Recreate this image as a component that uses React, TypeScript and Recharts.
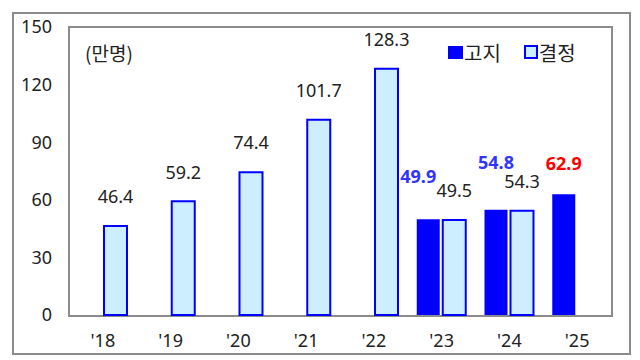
import React from 'react';
import { BarChart, Bar, XAxis, YAxis, LabelList } from 'recharts';

const years = ["'18", "'19", "'20", "'21", "'22", "'23", "'24", "'25"];
const notified = [null, null, null, null, null, 49.9, 54.8, 62.9]; // 고지
const decided = [46.4, 59.2, 74.4, 101.7, 128.3, 49.5, 54.3, null]; // 결정
const yTicks = [0, 30, 60, 90, 120, 150];

const data = years.map((y, i) => ({ year: y, notified: notified[i], decided: decided[i] }));

const FONT = "'Noto Sans', 'Noto Sans CJK KR', sans-serif";
const KFONT = "'Noto Sans CJK KR', sans-serif";
const BLUE = '#0000ff';
const LIGHT = '#cceeff';

// hand placement of the 고지 labels, as in the original
const notifiedLabelStyle: Record<number, { dx: number; rise: number; color: string }> = {
  5: { dx: -10, rise: 42, color: '#3333ff' },
  6: { dx: 0, rise: 47, color: '#3333ff' },
  7: { dx: 0, rise: 31, color: '#ff0000' },
};

const NotifiedLabel = (props: any) => {
  const { x, y, width, value } = props;
  if (value == null) return null;
  const idx = notified.indexOf(Number(value));
  const s = notifiedLabelStyle[idx] || { dx: 0, rise: 30, color: BLUE };
  return (
    <text x={Number(x) + Number(width) / 2 + s.dx} y={Number(y) - s.rise} dy="0.35em" textAnchor="middle"
      fontFamily={FONT} fontSize={18} fontWeight="bold" fill={s.color}>
      {value}
    </text>
  );
};

const DecidedLabel = (props: any) => {
  const { x, y, width, value } = props;
  if (value == null) return null;
  return (
    <text x={Number(x) + Number(width) / 2} y={Number(y) - 29} dy="0.35em" textAnchor="middle"
      fontFamily={FONT} fontSize={18} fill="#222">
      {value}
    </text>
  );
};

export default function App() {
  return (
    <div style={{ position: 'relative', width: 640, height: 360, marginLeft: -8, marginTop: -8, background: '#fff' }}>
      <div style={{ position: 'absolute', left: 12, top: 12, width: 615, height: 339, border: '2px solid #8c8c8c' }} />
      <div style={{ position: 'absolute', left: 68, top: 26, width: 541, height: 287, border: '2px solid #8c8c8c' }} />
      <div style={{ position: 'absolute', left: 85, top: 38, lineHeight: '30px', fontFamily: KFONT, fontSize: 19, color: '#222' }}>(만명)</div>
      <div style={{ position: 'absolute', left: 448, top: 37, height: 30, display: 'flex', alignItems: 'center', fontFamily: KFONT, fontSize: 20, color: '#222', fontWeight: 400 }}>
        <span style={{ display: 'inline-block', width: 15, height: 13, background: BLUE, marginRight: 1 }} />
        <span>고지</span>
        <span style={{ display: 'inline-block', width: 10, height: 10, background: LIGHT, border: `2px solid ${BLUE}`, marginLeft: 23, marginRight: 1 }} />
        <span>결정</span>
      </div>
      <div style={{ position: 'absolute', left: 0, top: 0 }}>
        <BarChart width={640} height={360} data={data}
          margin={{ top: 27, right: 29, bottom: 0, left: 0 }}
          barCategoryGap={9} barGap={3}>
          <XAxis dataKey="year" height={45} axisLine={false} tickLine={false} tickSize={0} tickMargin={19}
            tick={{ fill: '#222', fontSize: 18, fontFamily: FONT }} interval={0} />
          <YAxis width={69} domain={[0, 150]} ticks={yTicks} axisLine={false} tickLine={false}
            tickSize={0} tickMargin={17} interval={0}
            tick={{ fill: '#222', fontSize: 18, fontFamily: FONT }} />
          <Bar dataKey="notified" fill={BLUE} isAnimationActive={false}>
            <LabelList dataKey="notified" content={NotifiedLabel} />
          </Bar>
          <Bar dataKey="decided" fill={LIGHT} stroke={BLUE} strokeWidth={2} isAnimationActive={false}>
            <LabelList dataKey="decided" content={DecidedLabel} />
          </Bar>
        </BarChart>
      </div>
    </div>
  );
}
